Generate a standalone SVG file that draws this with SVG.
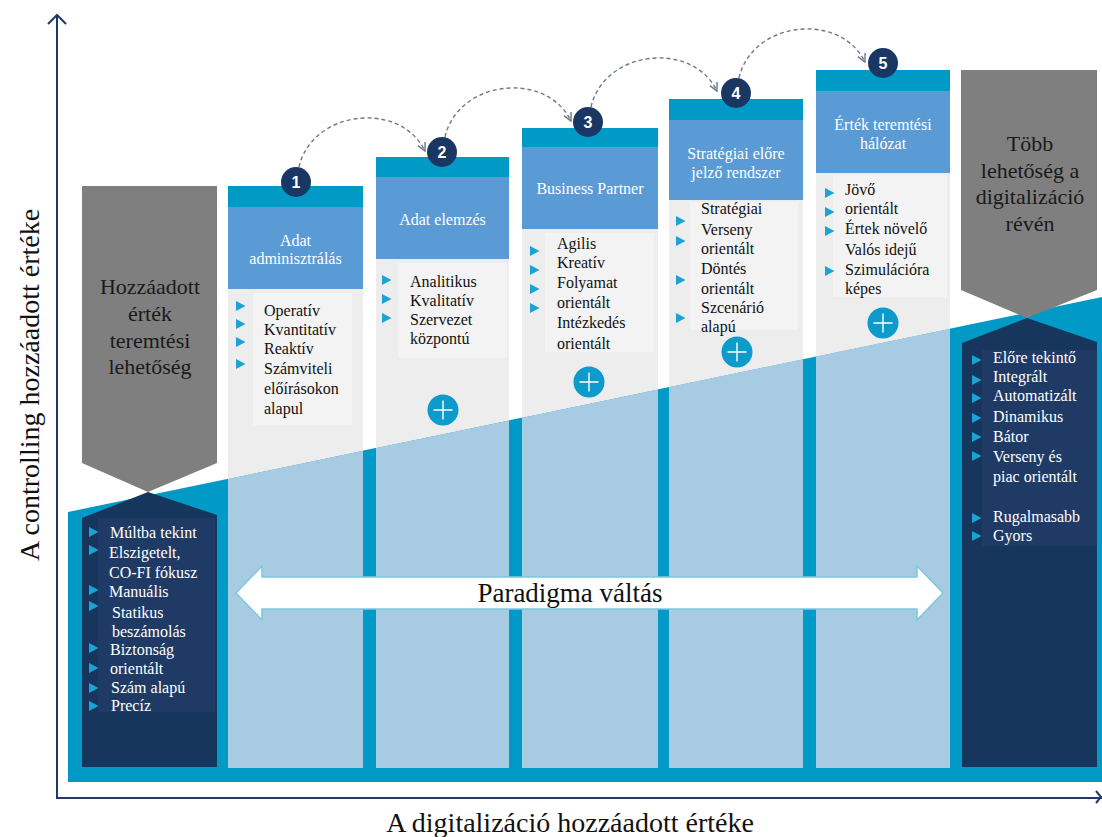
<svg xmlns="http://www.w3.org/2000/svg" width="1102" height="837" viewBox="0 0 1102 837">
<style>
text{font-family:"Liberation Serif","Times New Roman",serif}
.s{font-size:16px;fill:#111}
.w{font-size:16px;fill:#fff}
.h{font-size:16px;fill:#fff;text-anchor:middle}
.g{font-size:22px;fill:#1a1a1a;text-anchor:middle}
.big{font-size:28px;fill:#111;text-anchor:middle}
.num{font-family:"Liberation Sans",Arial,sans-serif;font-weight:bold;font-size:16px;fill:#fff;text-anchor:middle}
.teal{fill:#0199C6}
.hdr{fill:#5B9BD5}
.body{fill:#EDEDED}
.tbg{fill:#F3F3F3}
.lb{fill:#A7CBE2}
.dark{fill:#17365D}
.dtbg{fill:#203A66}
.badge{fill:#1A3763}
.arc{fill:none;stroke:#6B7889;stroke-width:1.4;stroke-dasharray:4 3}
</style>
<defs>
<path id="b" d="M0,-5 L9.5,0 L0,5 Z" fill="#1CA3D6"/>
<g id="plus"><circle r="15.5" fill="#0C9BCB"/><path d="M-9.5,0H9.5M0,-9.5V9.5" stroke="#fff" stroke-width="1.4"/></g>
<marker id="ah" viewBox="0 0 10 10" refX="9" refY="5" markerWidth="10" markerHeight="10" markerUnits="userSpaceOnUse" orient="auto"><path d="M1,1 L9,5 L1,9" fill="none" stroke="#6B7889" stroke-width="1.4"/></marker>
</defs>
<rect width="1102" height="837" fill="#fff"/>

<g id="axes" fill="none" stroke="#1F3864" stroke-width="2">
<path d="M57,15 V798 H1102"/>
<path d="M48,24 L57,15 L66,24"/>
<path d="M1096,791 L1101,797 L1096,803"/>
</g>
<text class="big" transform="translate(39,385) rotate(-90)">A controlling hozzáadott értéke</text>
<text class="big" x="570" y="832">A digitalizáció hozzáadott értéke</text>

<g id="base">
<polygon class="teal" points="68,512 1102,297 1102,782 68,782"/>
</g>

<g id="left">
<polygon fill="#7F7F7F" points="82,186 217,186 217,463 148,492 82,463"/>
<text class="g" x="150" y="294">Hozzáadott</text>
<text class="g" x="150" y="321">érték</text>
<text class="g" x="150" y="348">teremtési</text>
<text class="g" x="150" y="374">lehetőség</text>
<polygon class="dark" points="82,518 148,492 217,515 217,767 82,767"/>
<rect class="dtbg" x="98" y="518" width="117" height="194"/>
<use href="#b" x="89" y="532"/><use href="#b" x="89" y="550"/><use href="#b" x="89" y="590"/><use href="#b" x="89" y="606"/>
<use href="#b" x="89" y="648"/><use href="#b" x="89" y="668"/><use href="#b" x="89" y="688"/><use href="#b" x="89" y="706"/>
<text class="w" x="110" y="538">Múltba tekint</text>
<text class="w" x="109" y="558">Elszigetelt,</text>
<text class="w" x="109" y="578">CO-FI fókusz</text>
<text class="w" x="109" y="597">Manuális</text>
<text class="w" x="112" y="618">Statikus</text>
<text class="w" x="112" y="637">beszámolás</text>
<text class="w" x="110" y="655">Biztonság</text>
<text class="w" x="110" y="674">orientált</text>
<text class="w" x="111" y="693">Szám alapú</text>
<text class="w" x="111" y="711">Precíz</text>
</g>

<g id="col1">
<rect class="teal" x="228" y="186" width="135" height="21"/>
<rect class="hdr" x="228" y="207" width="135" height="82"/>
<polygon class="body" points="228,289 363,289 363,450.8 228,478.9"/>
<rect class="tbg" x="253" y="293" width="99" height="132"/>
<polygon class="lb" points="228,478.9 363,450.8 363,768 228,768"/>
<text class="h" x="295.5" y="245.5">Adat</text>
<text class="h" x="295.5" y="263.5">adminisztrálás</text>
<use href="#b" x="236" y="306"/><use href="#b" x="236" y="324"/><use href="#b" x="236" y="342"/><use href="#b" x="236" y="364"/>
<text class="s" x="264" y="316">Operatív</text>
<text class="s" x="264" y="335">Kvantitatív</text>
<text class="s" x="264" y="354">Reaktív</text>
<text class="s" x="264" y="374">Számviteli</text>
<text class="s" x="264" y="394">előírásokon</text>
<text class="s" x="264" y="414">alapul</text>
<circle class="badge" cx="296" cy="182" r="15"/>
<text class="num" x="296" y="188">1</text>
</g>

<g id="col2">
<rect class="teal" x="376" y="157" width="133" height="20"/>
<rect class="hdr" x="376" y="177" width="133" height="82"/>
<polygon class="body" points="376,259 509,259 509,420.4 376,448.1"/>
<rect class="tbg" x="398" y="263" width="109" height="95"/>
<polygon class="lb" points="376,448.1 509,420.4 509,768 376,768"/>
<text class="h" x="442.5" y="225">Adat elemzés</text>
<use href="#b" x="382" y="280"/><use href="#b" x="382" y="299"/><use href="#b" x="382" y="318"/>
<text class="s" x="410" y="287">Analitikus</text>
<text class="s" x="410" y="306">Kvalitatív</text>
<text class="s" x="410" y="325">Szervezet</text>
<text class="s" x="410" y="344">központú</text>
<use href="#plus" x="443" y="410"/>
<circle class="badge" cx="442" cy="152" r="15"/>
<text class="num" x="442" y="158">2</text>
</g>

<g id="col3">
<rect class="teal" x="522" y="128" width="136" height="19"/>
<rect class="hdr" x="522" y="147" width="136" height="82"/>
<polygon class="body" points="522,229 658,229 658,389.4 522,417.7"/>
<rect class="tbg" x="545" y="233" width="109" height="119"/>
<polygon class="lb" points="522,417.7 658,389.4 658,768 522,768"/>
<text class="h" x="590" y="194">Business Partner</text>
<use href="#b" x="530" y="251"/><use href="#b" x="530" y="270"/><use href="#b" x="530" y="289"/><use href="#b" x="530" y="308"/>
<text class="s" x="557" y="249">Agilis</text>
<text class="s" x="557" y="268">Kreatív</text>
<text class="s" x="557" y="288">Folyamat</text>
<text class="s" x="557" y="308">orientált</text>
<text class="s" x="557" y="328">Intézkedés</text>
<text class="s" x="557" y="349">orientált</text>
<use href="#plus" x="589" y="382"/>
<circle class="badge" cx="588" cy="122" r="15"/>
<text class="num" x="588" y="128">3</text>
</g>

<g id="col4">
<rect class="teal" x="669" y="99" width="134" height="21"/>
<rect class="hdr" x="669" y="120" width="134" height="80"/>
<polygon class="body" points="669,200 803,200 803,359.2 669,387.1"/>
<rect class="tbg" x="690" y="202" width="108" height="128"/>
<polygon class="lb" points="669,387.1 803,359.2 803,768 669,768"/>
<text class="h" x="736" y="159">Stratégiai előre</text>
<text class="h" x="736" y="178">jelző rendszer</text>
<use href="#b" x="676" y="221"/><use href="#b" x="676" y="241"/><use href="#b" x="676" y="280"/><use href="#b" x="676" y="318"/>
<text class="s" x="701" y="214">Stratégiai</text>
<text class="s" x="701" y="235">Verseny</text>
<text class="s" x="701" y="254">orientált</text>
<text class="s" x="701" y="274">Döntés</text>
<text class="s" x="701" y="294">orientált</text>
<text class="s" x="701" y="313">Szcenárió</text>
<text class="s" x="701" y="332">alapú</text>
<use href="#plus" x="737" y="352"/>
<circle class="badge" cx="736" cy="93" r="15"/>
<text class="num" x="736" y="99">4</text>
</g>

<g id="col5">
<rect class="teal" x="816" y="70" width="134" height="21"/>
<rect class="hdr" x="816" y="91" width="134" height="82"/>
<polygon class="body" points="816,173 950,173 950,328.7 816,356.5"/>
<rect class="tbg" x="833" y="175" width="114" height="122"/>
<polygon class="lb" points="816,356.5 950,328.7 950,768 816,768"/>
<text class="h" x="883" y="130">Érték teremtési</text>
<text class="h" x="883" y="149">hálózat</text>
<use href="#b" x="825" y="193"/><use href="#b" x="825" y="212"/><use href="#b" x="825" y="231"/><use href="#b" x="825" y="271"/>
<text class="s" x="845" y="195">Jövő</text>
<text class="s" x="845" y="214">orientált</text>
<text class="s" x="845" y="234">Értek növelő</text>
<text class="s" x="845" y="255">Valós idejű</text>
<text class="s" x="845" y="275">Szimulációra</text>
<text class="s" x="845" y="294">képes</text>
<use href="#plus" x="883" y="323"/>
<circle class="badge" cx="883" cy="63" r="15"/>
<text class="num" x="883" y="69">5</text>
</g>

<g id="right">
<polygon fill="#7F7F7F" points="961,70 1097,70 1097,290 1027,318 961,290"/>
<text class="g" x="1030" y="151">Több</text>
<text class="g" x="1030" y="178">lehetőség a</text>
<text class="g" x="1030" y="204">digitalizáció</text>
<text class="g" x="1030" y="231">révén</text>
<polygon class="dark" points="962,343 1027,318 1097,342 1097,767 962,767"/>
<rect class="dtbg" x="982" y="350" width="115" height="196"/>
<use href="#b" x="972" y="360"/><use href="#b" x="972" y="380"/><use href="#b" x="972" y="398"/><use href="#b" x="972" y="418"/>
<use href="#b" x="972" y="437"/><use href="#b" x="972" y="456"/><use href="#b" x="972" y="518"/><use href="#b" x="972" y="536"/>
<text class="w" x="993" y="363">Előre tekintő</text>
<text class="w" x="993" y="382">Integrált</text>
<text class="w" x="993" y="401">Automatizált</text>
<text class="w" x="993" y="422">Dinamikus</text>
<text class="w" x="993" y="442">Bátor</text>
<text class="w" x="993" y="462">Verseny és</text>
<text class="w" x="993" y="482">piac orientált</text>
<text class="w" x="993" y="522">Rugalmasabb</text>
<text class="w" x="993" y="541">Gyors</text>
</g>

<g id="shift">
<polygon fill="#fff" stroke="#7FC6DF" stroke-width="1.5" points="236,593 262,566 262,577 917,577 917,566 943,593 917,620 917,609 262,609 262,620"/>
<text x="570" y="602" style="font-size:27px;fill:#111;text-anchor:middle">Paradigma váltás</text>
</g>

<g id="connectors">
<path class="arc" d="M299,167 C312,110 400,100 425,151" marker-end="url(#ah)"/>
<path class="arc" d="M445,137 C458,80 546,70 571,121" marker-end="url(#ah)"/>
<path class="arc" d="M591,107 C604,50 692,40 717,91" marker-end="url(#ah)"/>
<path class="arc" d="M739,78 C752,21 840,11 865,62" marker-end="url(#ah)"/>
</g>
</svg>
